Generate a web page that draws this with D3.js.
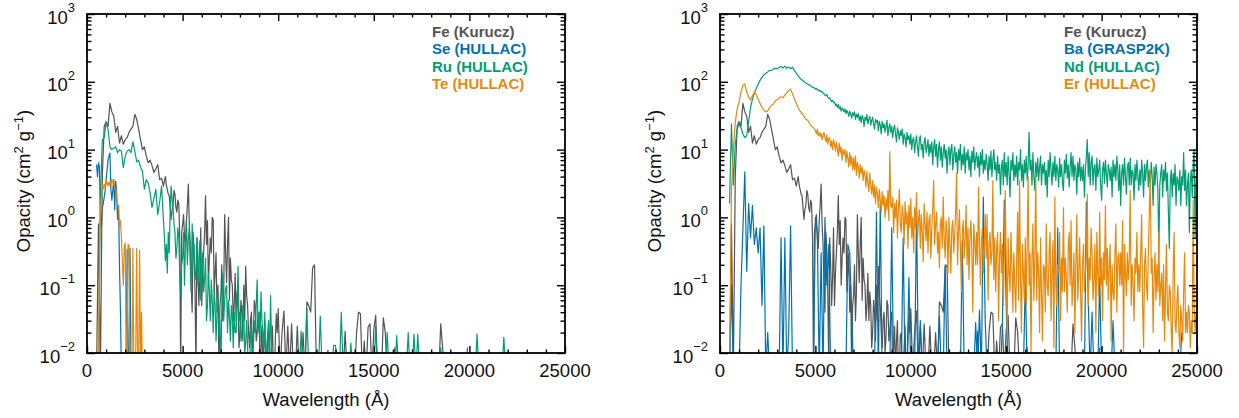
<!DOCTYPE html>
<html>
<head>
<meta charset="utf-8">
<script src="https://cdn.jsdelivr.net/npm/d3@7"></script>
<style>
  body { margin: 0; background: #fff; }
  svg { display: block; }
  text { font-family: "Liberation Sans", Arial, Helvetica, sans-serif; }
</style>
</head>
<body>
<div id="chart"></div>
<script>
// Axis ticks
const xTicks = [0, 5000, 10000, 15000, 20000, 25000];
const xMinorTicks = d3.range(1000, 25000, 1000).filter(v => v % 5000 !== 0);
const yExponents = [-2, -1, 0, 1, 2, 3];

// Opacity spectra (cm^2 g^-1).
// 0 means the value is below the 10^-2 floor of the plot.

// Fe (Kurucz), same curve in both panels
// 400 .. 3900 A every 100 A
const feHead = [
  0, 0, 0.8, 0, 4, 22, 26, 22, 48, 36,
  31, 18, 22, 12.5, 16, 12, 14, 15, 18, 20,
  22, 33, 28, 20, 14, 10, 11, 8, 6.4, 7,
  5.8, 4.6, 5.2, 6, 3.6, 3.8
];
// 4000 .. 9950 A every 50 A
const feMid = [
  2.9, 3.5, 4, 3, 2.6, 2.2, 2.1, 1.4, 0.93, 1.3,
  1.5, 2.5, 2.2, 1.4, 1.2, 1.8, 1.6, 0.5, 0, 0.6,
  0.78, 1.1, 0.5, 0.35, 0.9, 1.5, 3.1, 0.8, 0.4, 0.1,
  0.04, 0.6, 0.3, 0.08, 0, 0.5, 0.2, 0.05, 0.13, 0.7,
  0.05, 0.15, 0.3, 0.6, 2.1, 0.4, 0.9, 0.1, 0.25, 0.5,
  0.3, 1.0, 0.93, 0.08, 0.15, 0.3, 0.04, 0.1, 0, 0.05,
  0.07, 0.2, 0.03, 0.08, 1.1, 0.3, 0.11, 0.4, 1.0, 0.06,
  0.25, 0.12, 0.1, 0.03, 0.05, 0.15, 0.03, 0.08, 0.05, 0.012,
  0.02, 0.06, 0.04, 0.015, 0.1, 0.03, 0.19, 0.07, 0.05, 0.02,
  0.012, 0.03, 0.04, 0.01, 0.017, 0.06, 0.05, 0.015, 0.02, 0.035,
  0.04, 0, 0.012, 0.025, 0, 0.015, 0.03, 0, 0, 0.018,
  0.02, 0, 0, 0.012, 0.025, 0, 0, 0.015, 0.038, 0.02
];
// 10000 .. 19900 A every 100 A
const feTail = [
  0.045, 0, 0.02, 0.042, 0, 0.025, 0, 0.027, 0, 0,
  0.025, 0, 0, 0.02, 0, 0.057, 0.05, 0.04, 0.18, 0.2,
  0, 0, 0, 0, 0, 0, 0.011, 0, 0, 0,
  0, 0, 0, 0, 0, 0.021, 0, 0, 0, 0,
  0, 0.02, 0.04, 0.038, 0, 0.015, 0, 0.024, 0.027, 0,
  0.022, 0.036, 0, 0, 0, 0.033, 0.02, 0, 0, 0,
  0, 0.012, 0, 0, 0, 0, 0, 0, 0, 0,
  0, 0, 0, 0, 0, 0, 0, 0, 0, 0,
  0, 0, 0, 0, 0, 0.027, 0.012, 0, 0, 0,
  0, 0, 0, 0, 0, 0, 0, 0, 0, 0.012
];

// Se (HULLAC): 500 .. 2350 A every 50 A
const seHullac = [
  6, 4, 6.4, 5.5, 1.1, 0.73, 1.4, 1.6, 2.0, 2.5,
  3.6, 5, 7, 8, 8.9, 2.6, 1.8, 2.5, 3.6, 1.3,
  3.4, 2.3, 0.93, 1.5, 0.19, 0.04, 0, 0, 0, 0,
  0, 0, 0.34, 0, 0, 0.35, 0, 0
];

// Ru (HULLAC)
// 500 .. 3900 A every 100 A
const ruHead = [
  0, 0, 2, 14, 15, 25, 20, 11, 10, 10.5,
  11, 9, 10, 9.5, 5.4, 8, 9.5, 10, 9, 13,
  9.5, 6.6, 7, 5.5, 4.8, 2.6, 3.6, 3.2, 2.3, 1.4,
  1.9, 2.6, 1.1, 1.7, 2.9
];
// 4000 .. 9950 A every 50 A
const ruMid = [
  0.9, 0.5, 0.23, 0.4, 0.15, 0.6, 0.3, 1.2, 2.9, 1.8,
  1.4, 0.8, 0.6, 0.25, 0.35, 0.7, 0.5, 0.15, 0.068, 0.2,
  0.25, 0.6, 0.1, 0.4, 0.9, 0.2, 0.5, 0.7, 0.2, 0.08,
  0.8, 0.3, 0.4, 0.12, 0.15, 0.5, 0.1, 0.25, 0.45, 0.06,
  0.15, 0.3, 0.08, 0.12, 0.25, 0.03, 0.05, 0.15, 0.08, 0.03,
  0.12, 0.06, 0.02, 0.09, 0.05, 0.015, 0.04, 0.08, 0.018, 0.03,
  0, 0.045, 0.15, 0.03, 0.06, 0.09, 0.1, 0.02, 0.06, 0.035,
  0.015, 0.05, 0.035, 0.012, 0.04, 0.02, 0.02, 0.06, 0.19, 0.03,
  0.04, 0.015, 0.02, 0.05, 0.04, 0.01, 0.014, 0.03, 0.012, 0,
  0, 0.02, 0.025, 0, 0.012, 0.03, 0.02, 0.05, 0.12, 0.02,
  0.04, 0.015, 0.08, 0.03, 0.02, 0.012, 0.04, 0, 0.012, 0.02,
  0.03, 0, 0.07, 0.015, 0, 0, 0, 0, 0, 0
];
// 10000 .. 21900 A every 100 A
const ruTail = [
  0, 0, 0, 0, 0, 0, 0, 0, 0, 0,
  0, 0, 0.021, 0, 0, 0.045, 0, 0, 0, 0,
  0, 0, 0.035, 0, 0, 0, 0, 0, 0, 0.013,
  0.013, 0, 0, 0.04, 0, 0, 0, 0, 0.014, 0,
  0, 0, 0, 0, 0, 0, 0, 0, 0, 0,
  0, 0.025, 0, 0, 0, 0, 0, 0.02, 0, 0,
  0, 0, 0.018, 0, 0, 0, 0, 0, 0.02, 0,
  0, 0.019, 0, 0.019, 0, 0, 0, 0, 0, 0,
  0, 0, 0, 0, 0, 0.012, 0, 0, 0, 0,
  0, 0, 0, 0, 0, 0, 0, 0, 0, 0,
  0, 0, 0, 0, 0.019, 0, 0, 0, 0, 0,
  0, 0, 0, 0, 0, 0, 0, 0, 0.017, 0
];

// Te (HULLAC): 550 .. 2900 A every 50 A
const teHullac = [
  0, 0, 0.37, 1.2, 2.0, 3, 2.6, 3.1, 2.8, 3.6,
  3.0, 3.3, 2.9, 3.4, 3.0, 3.6, 3.2, 3.6, 2.6, 2.6,
  2.0, 1.6, 1.4, 0.73, 0.9, 0.5, 0.22, 0.1, 0.37, 0.42,
  0, 0.02, 0.4, 0.38, 0, 0.01, 0, 0.35, 0, 0,
  0.012, 0.35, 0, 0, 0.33, 0, 0.04, 0
];

// Ba (GRASP2K): 500 .. 24200 A every 100 A
const baGrasp = [
  0, 0.1, 0, 0, 0, 0, 0.1, 0.65, 4.7, 0.16,
  1.6, 0.5, 1.5, 0.4, 0.7, 0.3, 0.7, 0.05, 0.75, 0,
  0.02, 0, 0, 0, 0, 0, 0, 0.5, 0, 0.5,
  0, 0.02, 0.75, 0, 0, 0, 0, 0, 0, 0,
  0, 0, 0, 0, 0, 1.0, 0.6, 0, 0.3, 0,
  1.0, 0.1, 0.4, 0, 0, 0, 0, 0, 0, 0,
  0, 0, 0.4, 0.3, 0.04, 0, 0, 0, 0, 0,
  0, 0, 0, 0, 0, 0, 0, 1.2, 0, 1.6,
  0, 0, 0, 0, 0, 0.7, 0, 0, 0, 0,
  0, 0.5, 0, 0, 0.13, 0, 0, 0, 1.3, 0,
  0.03, 0, 0, 0, 0, 0, 0, 0, 0, 0,
  0.035, 0, 0, 0.2, 0, 0, 0, 0, 0, 0,
  0, 0, 0.45, 0, 0, 0, 0, 0, 0, 0.028,
  0, 0.043, 0, 2.0, 0.03, 0, 0, 0, 0, 0,
  0, 0, 0, 0.025, 1.8, 0.05, 0, 0, 0, 0,
  0, 0, 0, 0, 0, 0.12, 0, 0, 0, 0,
  0, 0, 0, 0, 0, 0, 0, 0, 0, 0,
  0, 0, 0.7, 0, 0, 0, 0, 0, 0, 0,
  0, 0, 0, 0, 0, 0, 0, 1.7, 0.06, 0,
  0.04, 0, 0, 0, 0.13, 0, 0, 0, 0, 0,
  0, 0.03, 0, 0, 0, 0, 0, 0, 0, 0,
  0, 0, 0, 0, 0, 0, 0, 0, 0, 0,
  0, 0, 0, 0, 0, 0, 0, 0, 0, 0,
  0, 0, 0, 0, 0, 0, 0, 0.02
];

// Nd (HULLAC): 500 .. 4900 A every 100 A, then 5000 .. 25000 A every 50 A
const ndHead = [
  1.6, 24, 3, 12, 20, 24, 21, 17, 15, 16,
  26, 42, 55, 68, 80, 92, 105, 116, 126, 134,
  140, 148, 146, 155, 158, 156, 164, 168, 160, 170,
  158, 166, 156, 164, 146, 134, 122, 112, 106, 101,
  96, 92, 90, 84, 83
];
const ndTail = [
  78, 80, 76, 77, 73, 75, 71, 72, 68, 66,
  64, 62, 65, 59, 57, 58, 54, 51, 53, 49,
  50, 45, 47, 42, 46, 40, 43, 37, 41, 39,
  36, 40, 34, 38, 35, 31, 37, 33, 29, 35,
  32, 36, 28, 33, 30, 34, 27, 31, 25, 32,
  29, 22, 30, 27, 33, 24, 28, 31, 23, 27,
  30, 24, 20, 28, 25, 27, 19, 26, 23, 17,
  26, 21, 24, 18, 22, 27, 16, 21, 24, 18,
  22, 15, 20, 23, 17, 13, 21, 18, 14, 19,
  16, 20, 12, 17, 15, 11, 18, 14, 16, 12,
  17, 10, 14, 15, 9, 13, 16, 11, 8, 14,
  16, 10, 12, 7.5, 13, 15, 9, 11, 14, 8,
  12, 9, 13, 6, 11, 14, 8, 12, 5.5, 10,
  13, 7, 11, 5.5, 9, 12, 7.5, 10, 4.5, 9,
  11, 6, 10, 12, 5, 8, 11, 6.5, 9, 4.5,
  10, 7, 12, 5, 8.5, 6, 11, 4.5, 9, 7,
  10, 5, 8, 4, 9.5, 6.5, 11, 5, 7.5, 9,
  5.5, 8, 4, 9, 6, 10, 4.5, 7, 5, 8.5,
  6, 3.5, 8, 5, 9.5, 4, 7, 10, 5, 6.5,
  3.5, 8, 4.5, 6, 2.2, 5.5, 7, 3, 9, 4,
  6.5, 3, 8, 4.5, 2, 7, 5, 9, 3.5, 6,
  4, 8, 3, 6.5, 5, 10, 3.5, 6, 2.8, 7,
  4.5, 8, 3.5, 6, 18, 5, 7, 3, 9, 4,
  2.5, 6.5, 4, 7.5, 3.5, 5.5, 8, 3, 6, 4.5,
  6.5, 3, 5, 2, 7, 4, 9, 5, 3, 6.5,
  4, 8, 3.5, 6, 5, 2.8, 7.5, 4, 6, 3.2,
  2.5, 7, 4.5, 8.5, 3.8, 6, 2.8, 5.5, 9, 4,
  8, 3.5, 6, 5, 2.2, 6.5, 4, 7.5, 3.5, 5.5,
  3.5, 6, 2, 5, 8, 14, 4, 9, 3, 6.5,
  8, 3, 5.5, 6, 2.5, 7.5, 4, 5, 7, 3,
  1.8, 5, 6.5, 3.2, 7, 4.5, 2.8, 6, 5, 3.5,
  5.5, 2, 7, 4, 6, 3.5, 8, 5, 2.5, 6,
  1.5, 4.5, 6, 3, 7.5, 4, 2.2, 5.5, 6.5, 3,
  7.5, 3, 5, 4.5, 1.8, 6, 3.5, 7, 4, 2.5,
  5, 3, 7, 4.5, 2, 6, 3.5, 5.5, 7, 2.8,
  5, 3.2, 6.5, 4, 1.5, 5.5, 3, 6, 4.5, 2.5,
  0.3, 3, 4.5, 6, 2, 5, 3.5, 6.5, 2.5, 4.5,
  1.2, 0.35, 3.5, 5, 2, 4.5, 3, 6, 1.5, 4,
  3.5, 2.5, 5, 1.5, 4, 3, 9, 2.5, 5, 1.5,
  3, 4.5, 0.6, 3.5, 5, 2, 6, 10, 0.5, 4,
  2.5
];

// Er (HULLAC): 500 .. 4900 A every 100 A, then 5000 .. 25000 A every 50 A
const erHead = [
  0, 2.5, 10, 25, 40, 50, 70, 88, 93, 70,
  60, 54, 62, 71, 64, 55, 48, 42, 38, 36,
  37, 42, 45, 47, 52, 55, 57, 60, 58, 64,
  68, 74, 78, 66, 56, 48, 41, 37, 34, 31,
  28, 27, 24, 22, 21
];
const erTail = [
  19, 17, 20, 16, 18, 15.5, 17.5, 14, 16, 18,
  15, 13, 16.5, 12, 14.5, 15, 11, 13.5, 10, 14,
  12, 9.5, 13, 10.5, 8, 12.5, 9, 11, 7, 10,
  8.5, 10, 6.5, 9.5, 7.5, 5.5, 9, 6, 8, 5,
  7.5, 5, 8, 4.2, 6.5, 5.5, 3.8, 6, 4.5, 5.5,
  3.5, 5, 4.2, 2.8, 4.8, 3.2, 2.4, 4.5, 3, 2.2,
  3.5, 2, 3, 1.6, 2.8, 2.2, 1.4, 2.6, 1.8, 1.2,
  2.4, 1.5, 2.1, 1.0, 1.9, 1.3, 2.5, 0.9, 9.3, 1.5,
  1.4, 2, 0.6, 1.6, 1.0, 1.8, 0.5, 1.3, 2.6, 0.8,
  0.6, 1.5, 1.1, 0.4, 1.7, 0.8, 1.2, 0.35, 1.5, 0.7,
  1.9, 0.5, 1.0, 0.3, 1.4, 0.7, 2.3, 0.45, 0.9, 1.3,
  0.35, 1.1, 0.6, 0.22, 1.6, 0.8, 0.45, 1.2, 0.3, 0.9,
  1.1, 0.25, 0.7, 1.4, 3.5, 0.4, 0.8, 1.2, 0.3, 0.6,
  0.18, 0.8, 1.0, 0.35, 2.0, 0.5, 0.25, 0.9, 0.6, 0.15,
  1.0, 0.4, 0.15, 0.7, 0.9, 0.3, 0.55, 1.2, 4.5, 0.2,
  0.6, 1.3, 0.35, 0.08, 0.6, 0.9, 0.25, 0.5, 1.5, 0.2,
  0.7, 0.12, 0.5, 0.9, 0.3, 0.04, 0.8, 0.45, 0.2, 0.6,
  0.2, 2.8, 0.4, 0.1, 0.45, 0.7, 0.15, 0.35, 1.1, 0.25,
  1.1, 0.06, 0.4, 0.6, 0.2, 0.3, 3.5, 0.12, 0.5, 0.08,
  0.35, 0.6, 0.03, 0.25, 0.6, 0.15, 0.4, 0.05, 0.3, 2.5,
  0.25, 0.02, 0.5, 0.15, 0.08, 0.6, 0.2, 0.04, 0.3, 0.1,
  0.04, 0.25, 1.2, 0.06, 3.5, 0.12, 0.02, 0.4, 0.15, 0.06,
  0.5, 0.05, 0.4, 4, 0.1, 0.3, 0.01, 0.25, 0.8, 0.06,
  0.25, 4.5, 0.06, 0.3, 0.15, 0.02, 0.5, 0.08, 0.015, 0.2,
  0.18, 0.04, 0.8, 0.1, 0.07, 0.3, 0.6, 0.03, 0.15, 0.45,
  0.012, 2, 0.1, 0.05, 0.2, 0.15, 0.6, 0.03, 0.25, 0.08,
  1.4, 0.08, 0.25, 0.12, 0.04, 0.35, 0.6, 0.1, 0.9, 0.05,
  0.1, 0.3, 0.02, 0.2, 1.1, 0.06, 0.15, 0.5, 0.08, 0.015,
  0.2, 0.4, 0.08, 0.15, 0.3, 2.2, 0.05, 0.25, 0.12, 0.7,
  0.3, 0.06, 0.12, 0.4, 0.02, 0.6, 0.15, 0.07, 1.2, 0.1,
  0.25, 0.03, 0.3, 0.12, 1.5, 0.1, 0.35, 0.06, 0.2, 0.4,
  0.015, 0.2, 0.08, 0.06, 0.3, 0.8, 0.04, 0.25, 0.3, 0.1,
  0.3, 0.1, 0.9, 0.01, 0.4, 0.15, 0.07, 0.3, 0.12, 0.25,
  2.5, 0.05, 0.2, 0.1, 0.03, 0.25, 0.15, 0.6, 0.08, 0.2,
  0.08, 0.3, 1.1, 0.05, 0.012, 0.2, 0.35, 0.1, 0.06, 0.3,
  1.2, 5, 0.15, 0.25, 0.02, 0.12, 0.3, 0.06, 0.2, 0.08,
  0.6, 0.05, 0.1, 0.15, 0.03, 0.2, 0.015, 0.08, 0.4, 0.04,
  0.03, 0.1, 0.08, 0.02, 0.01, 0.15, 0.6, 0.03, 0.02, 0.06,
  0.1, 0.02, 0.012, 0.05, 0.03, 0.015, 0.08, 0.3, 0.02, 0.04,
  0.02, 0.05, 0.04, 0.012, 0.03, 0.02, 1.8, 0.05, 0.02, 0.04,
  0.03
];

const colors = { fe: '#545454', blue: '#0072b2', green: '#009e73', orange: '#e8890c' };

// each series is one or more runs of evenly spaced samples: [start A, step A, values]
const feRuns = [[400, 100, feHead], [4000, 50, feMid], [10000, 100, feTail]];
const panels = [
  {
    left: 87, right: 565, legendX: 432, titleX: 29.5,
    series: [
      { name: 'Fe (Kurucz)', color: colors.fe, runs: feRuns },
      { name: 'Se (HULLAC)', color: colors.blue, runs: [[500, 50, seHullac]] },
      { name: 'Ru (HULLAC)', color: colors.green, runs: [[500, 100, ruHead], [4000, 50, ruMid], [10000, 100, ruTail]] },
      { name: 'Te (HULLAC)', color: colors.orange, runs: [[550, 50, teHullac]] }
    ]
  },
  {
    left: 720, right: 1197, legendX: 1064, titleX: 661,
    series: [
      { name: 'Fe (Kurucz)', color: colors.fe, runs: feRuns },
      { name: 'Ba (GRASP2K)', color: colors.blue, runs: [[500, 100, baGrasp]] },
      { name: 'Nd (HULLAC)', color: colors.green, runs: [[500, 100, ndHead], [5000, 50, ndTail]] },
      { name: 'Er (HULLAC)', color: colors.orange, runs: [[500, 100, erHead], [5000, 50, erTail]] }
    ]
  }
];

const width = 1239, height = 418;
const plotTop = 14, plotBottom = 353;
const h = plotBottom - plotTop;

const svg = d3.select('#chart').append('svg')
  .attr('width', width)
  .attr('height', height);

panels.forEach((p, pi) => {
  const w = p.right - p.left;
  const g = svg.append('g').attr('transform', `translate(${p.left},${plotTop})`);

  const x = d3.scaleLinear().domain([0, 25000]).range([0, w]);
  const y = d3.scaleLog().domain([1e-2, 1e3]).range([h, 0]);

  const clipId = 'clip' + pi;
  g.append('clipPath').attr('id', clipId)
    .append('rect').attr('width', w).attr('height', h);

  // spectra
  const line = d3.line()
    .x(d => x(d[0]))
    .y(d => d[1] > 0 ? y(d[1]) : h + 20);

  const lines = g.append('g').attr('clip-path', `url(#${clipId})`);
  p.series.forEach(s => {
    const pts = [];
    s.runs.forEach(([start, step, vals]) => {
      vals.forEach((v, i) => pts.push([start + i * step, v]));
    });
    lines.append('path')
      .attr('d', line(pts))
      .attr('fill', 'none')
      .attr('stroke', s.color)
      .attr('stroke-width', 1.2)
      .attr('stroke-linejoin', 'round');
  });

  // ticks (inward, mirrored on all sides)
  const styleAxis = sel => {
    sel.select('.domain').remove();
    sel.selectAll('.tick line').attr('stroke', '#000').attr('stroke-width', 1.4);
    sel.selectAll('.tick text').remove();
  };
  const yMajor = yExponents.map(e => Math.pow(10, e));
  const yMinor = [];
  for (let e = -2; e < 3; e++) for (let k = 2; k <= 9; k++) yMinor.push(k * Math.pow(10, e));

  g.append('g').attr('transform', `translate(0,${h})`)
    .call(d3.axisBottom(x).tickValues(xTicks).tickSize(-7)).call(styleAxis);
  g.append('g').attr('transform', `translate(0,${h})`)
    .call(d3.axisBottom(x).tickValues(xMinorTicks).tickSize(-3.5)).call(styleAxis);
  g.append('g')
    .call(d3.axisTop(x).tickValues(xTicks).tickSize(-7)).call(styleAxis);
  g.append('g')
    .call(d3.axisTop(x).tickValues(xMinorTicks).tickSize(-3.5)).call(styleAxis);
  g.append('g')
    .call(d3.axisLeft(y).tickValues(yMajor).tickSize(-8)).call(styleAxis);
  g.append('g')
    .call(d3.axisLeft(y).tickValues(yMinor).tickSize(-4.5)).call(styleAxis);
  g.append('g').attr('transform', `translate(${w},0)`)
    .call(d3.axisRight(y).tickValues(yMajor).tickSize(-8)).call(styleAxis);
  g.append('g').attr('transform', `translate(${w},0)`)
    .call(d3.axisRight(y).tickValues(yMinor).tickSize(-4.5)).call(styleAxis);

  // frame
  g.append('rect')
    .attr('width', w).attr('height', h)
    .attr('fill', 'none').attr('stroke', '#000').attr('stroke-width', 1.8);

  // x tick labels
  g.selectAll('.xlab').data(xTicks).enter().append('text')
    .attr('class', 'xlab')
    .attr('x', d => x(d))
    .attr('y', h + 24)
    .attr('text-anchor', 'middle')
    .attr('font-size', 18.5)
    .attr('fill', '#111')
    .text(d => d);

  // y tick labels: 10^n
  const ylab = g.selectAll('.ylab').data(yExponents).enter().append('text')
    .attr('class', 'ylab')
    .attr('x', -12)
    .attr('y', d => y(Math.pow(10, d)) + 9.5)
    .attr('text-anchor', 'end')
    .attr('fill', '#111')
    .attr('font-size', 18.5);
  ylab.append('tspan').text('10');
  ylab.append('tspan')
    .attr('dy', -11.5)
    .attr('font-size', 13)
    .text(d => d < 0 ? '\u2212' + (-d) : String(d));

  // axis titles
  svg.append('text')
    .attr('x', p.left + w / 2)
    .attr('y', 406)
    .attr('text-anchor', 'middle')
    .attr('font-size', 18.5)
    .attr('fill', '#111')
    .text('Wavelength (\u00c5)');

  const yt = svg.append('text')
    .attr('transform', `translate(${p.titleX},${181}) rotate(-90)`)
    .attr('text-anchor', 'middle')
    .attr('font-size', 18.5)
    .attr('fill', '#111');
  yt.append('tspan').text('Opacity (cm');
  yt.append('tspan').attr('dy', -7).attr('font-size', 13).text('2');
  yt.append('tspan').attr('dy', 7).text(' g');
  yt.append('tspan').attr('dy', -7).attr('font-size', 13).text('\u22121');
  yt.append('tspan').attr('dy', 7).text(')');

  // legend
  svg.selectAll('.leg' + pi).data(p.series).enter().append('text')
    .attr('class', 'leg' + pi)
    .attr('x', p.legendX)
    .attr('y', (d, i) => 37 + i * 17.4)
    .attr('font-size', 15)
    .attr('font-weight', 'bold')
    .attr('fill', d => d.color)
    .text(d => d.name);
});
</script>
</body>
</html>
